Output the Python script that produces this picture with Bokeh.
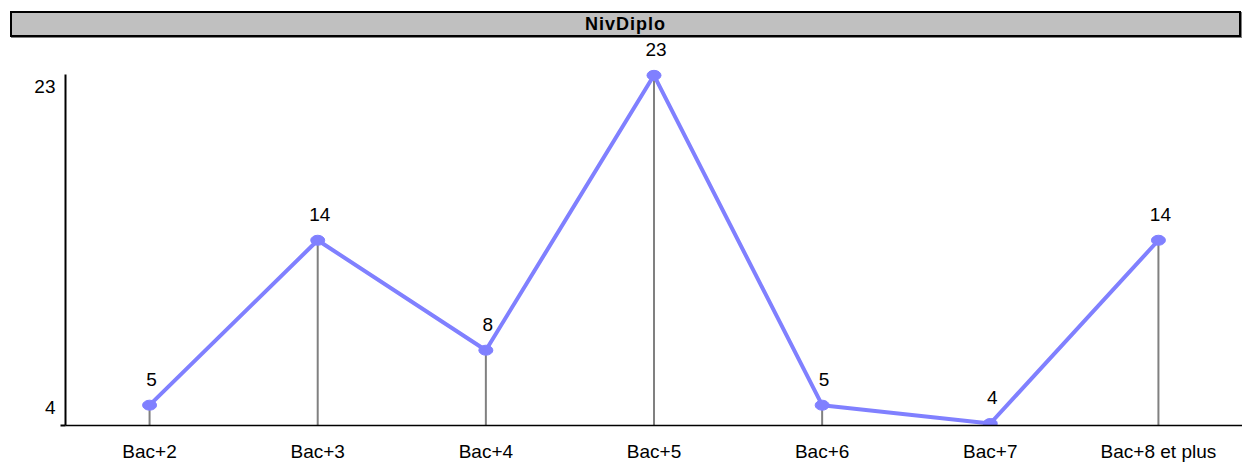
from bokeh.plotting import figure
from bokeh.layouts import column
from bokeh.models import FixedTicker, Range1d, FactorRange, ColumnDataSource, Div
from bokeh.core.properties import value
from bokeh.embed import file_html
from bokeh.resources import INLINE

title_text = "NivDiplo"
categories = ["Bac+2", "Bac+3", "Bac+4", "Bac+5", "Bac+6", "Bac+7", "Bac+8 et plus"]
counts = [5, 14, 8, 23, 5, 4, 14]
value_labels = [str(v) for v in counts]

FONT = "Liberation Sans"
LINE_COLOR = "#8080FF"

# title bar
title_bar = Div(text=title_text, width=1231, height=26, margin=(11, 0, 1, 10),
                styles={"background-color": "#C0C0C0", "border": "2px solid black",
                        "box-shadow": "1px 1px 0px #808080", "box-sizing": "border-box",
                        "text-align": "center", "font-family": "'Liberation Sans'",
                        "font-size": "18px", "font-weight": "bold", "color": "black",
                        "line-height": "22px", "letter-spacing": "1px"})

vmin, vmax = min(counts), max(counts)
px_per_unit = 18.42
frame_h = 389
y_start = vmin - 2 / px_per_unit
y_end = y_start + frame_h / px_per_unit

p = figure(width=1242, height=426, x_range=FactorRange(*categories),
           y_range=Range1d(y_start, y_end), min_border_left=65, min_border_right=0,
           min_border_top=0, min_border_bottom=37, toolbar_location=None,
           output_backend="svg")
p.grid.visible = False
p.outline_line_color = None
p.background_fill_color = "white"
p.border_fill_color = "white"

src = ColumnDataSource(dict(cat=categories, val=counts, lab=value_labels,
                            base=[y_start] * len(counts)))

p.segment(x0="cat", y0="base", x1="cat", y1="val", source=src, line_color="#808080", line_width=2)
p.line(x="cat", y="val", source=src, line_color=LINE_COLOR, line_width=4)
p.ellipse(x="cat", y="val", width=14, height=10, width_units="screen", height_units="screen",
          source=src, fill_color=LINE_COLOR, line_color=LINE_COLOR)
p.text(x="cat", y="val", text="lab", source=src, text_align="center", text_baseline="middle",
       y_offset=-26, x_offset=2, text_font=value(FONT), text_font_size="19px", text_color="black")

top_lab = vmin + (vmax - vmin) * 0.968
bot_lab = vmin + (vmax - vmin) * 0.046
p.yaxis.ticker = FixedTicker(ticks=[bot_lab, top_lab], minor_ticks=[y_start])
p.yaxis.major_label_overrides = {bot_lab: str(vmin), top_lab: str(vmax)}
p.yaxis.bounds = (y_start, vmax + 0.05)
p.yaxis.major_tick_out = 0
p.yaxis.major_tick_in = 0
p.yaxis.minor_tick_out = 5
p.yaxis.minor_tick_in = 0
p.yaxis.minor_tick_line_color = "black"
p.yaxis.minor_tick_line_width = 2
p.yaxis.axis_line_color = "black"
p.yaxis.axis_line_width = 2
p.yaxis.major_label_standoff = 5
p.yaxis.major_label_text_font = FONT
p.yaxis.major_label_text_font_size = "19px"
p.yaxis.major_label_text_color = "black"

p.xaxis.axis_line_color = "black"
p.xaxis.axis_line_width = 1.5
p.xaxis.major_tick_line_color = None
p.xaxis.major_tick_out = 0
p.xaxis.major_tick_in = 0
p.xaxis.major_label_standoff = 15
p.xaxis.major_label_text_font = FONT
p.xaxis.major_label_text_font_size = "19px"
p.xaxis.major_label_text_color = "black"

layout = column(title_bar, p, spacing=0)
open("out.html", "w").write(file_html(layout, INLINE))
